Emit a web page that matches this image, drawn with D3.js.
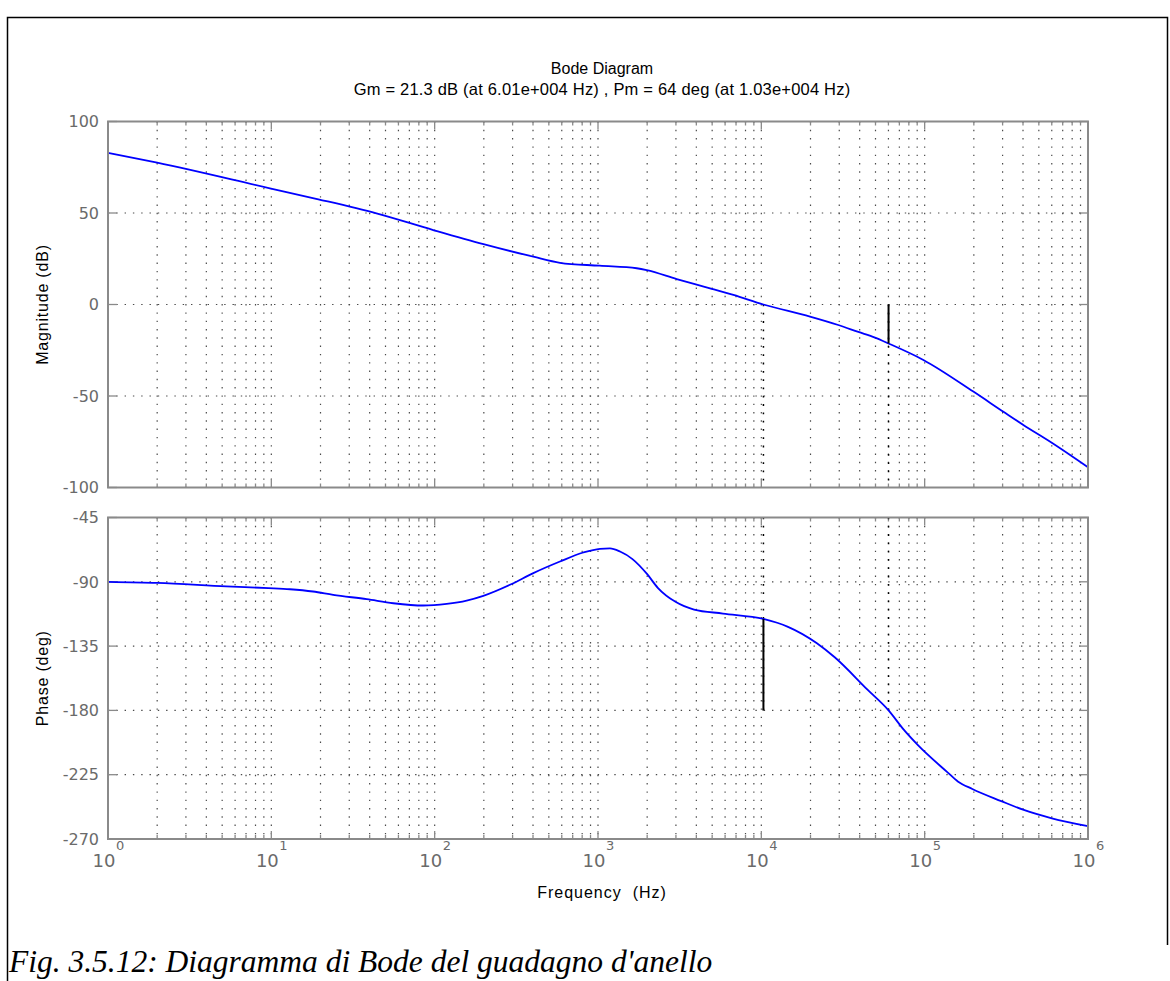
<!DOCTYPE html>
<html>
<head>
<meta charset="utf-8">
<script src="https://cdnjs.cloudflare.com/ajax/libs/d3/7.8.5/d3.min.js"></script>
<style>
  html, body { margin: 0; padding: 0; background: #fff; }
  svg { display: block; }
</style>
</head>
<body>
<svg id="chart" width="1170" height="981"></svg>
<script>
// ---- data --------------------------------------------------------------
// Loop-gain magnitude (dB) sampled at these frequencies (Hz)
const magFreq = [1, 2, 9.8, 19.4, 44, 98, 199, 402, 585, 1023, 1725, 1986,
  3034, 4020, 4852, 6743, 10300, 19860, 29580, 39260, 49650, 60100, 98200,
  198600, 303400, 401800, 600000, 1000000];
const magDb = [82.9, 77.5, 63.5, 57.5, 49.8, 40.7, 33, 26.1, 22.8, 21.2, 19.8, 18.8,
  13.9, 10.8, 8.8, 5.2, 0, -6.6, -11.2, -15, -18.1, -21.3, -30.3,
  -47.6, -58.6, -65.8, -75.5, -88.9];

// Loop-gain phase (deg) sampled at these frequencies (Hz)
const phaseFreq = [1, 2, 5.3, 9.6, 13, 18, 23.9, 38.4, 55.8, 85.3, 118.5, 157,
  198.6, 289, 402, 585, 813, 1028, 1184, 1364, 1626, 1995, 2323, 2999, 3873,
  5823, 10300, 14560, 21890, 28250, 44650, 60100, 74440, 91270, 137000,
  159600, 195800, 294400, 400000, 600800, 1000000];
const phaseDeg = [-90, -90.8, -93.2, -94.4, -95.2, -96.8, -99.1, -102.2, -105,
  -106.6, -105.4, -103.1, -99.8, -92.1, -83.9, -75.8, -69.5, -66.9, -66.6,
  -68.8, -74.1, -84.5, -94.2, -104.2, -109.4, -112.2, -116, -121.5, -133,
  -143, -165.5, -180, -193.5, -204.5, -223, -229.7, -235, -243.5,
  -249.5, -255.5, -261];

// Stability margins
const gainMarginDb = 21.3;     // at phase crossover
const gainMarginFreq = 6.01e4;
const phaseMarginDeg = 64;     // at gain crossover
const phaseMarginFreq = 1.03e4;

// Axis ticks
const freqDecades = [1, 10, 100, 1e3, 1e4, 1e5, 1e6];
const magTicks = [-100, -50, 0, 50, 100];
const phaseTicks = [-270, -225, -180, -135, -90, -45];

const titleText = "Bode Diagram";
const xLabelText = "Frequency\u00a0 (Hz)";
const magLabelText = "Magnitude (dB)";
const phaseLabelText = "Phase (deg)";
const captionText = "Fig. 3.5.12: Diagramma di Bode del guadagno d'anello";

// ---- layout ------------------------------------------------------------
const svg = d3.select("#chart");
const X0 = 108, X1 = 1088;
const MAG_TOP = 121.5, MAG_BOT = 487.5;
const PH_TOP = 517.5, PH_BOT = 839;

const TICK_FONT = "'DejaVu Sans', sans-serif";
const TEXT_FONT = "'Liberation Sans', Arial, sans-serif";
const AXIS_GREY = "#8a8a8a";
const LABEL_GREY = "#6a6a6a";

const x = d3.scaleLog().domain([1, 1e6]).range([X0, X1]);
const yMag = d3.scaleLinear().domain([-100, 100]).range([MAG_BOT, MAG_TOP]);
const yPh = d3.scaleLinear().domain([-270, -45]).range([PH_BOT, PH_TOP]);

// MATLAB-style exponent string, e.g. 6.01e+004
function matlabExp(v) {
  const e = Math.floor(Math.log10(v));
  const m = v / Math.pow(10, e);
  return m.toFixed(2) + "e" + (e >= 0 ? "+" : "-") + String(Math.abs(e)).padStart(3, "0");
}

// Document frame around the figure
svg.append("path")
  .attr("d", "M7.5,981 V17.5 H1167.5 V945")
  .attr("fill", "none").attr("stroke", "#000").attr("stroke-width", 1.5);

// minor + major frequency positions
const allFreqTicks = [];
for (let d = 0; d < 6; d++) {
  for (let k = 1; k <= 9; k++) allFreqTicks.push(k * Math.pow(10, d));
}
allFreqTicks.push(1e6);
const minorFreq = allFreqTicks.filter(f => !freqDecades.includes(f));

function drawPanel(y, yTicks, top, bot) {
  const g = svg.append("g");
  const grid = g.append("g")
    .attr("stroke", "#4a4a4a").attr("stroke-width", 1.2)
    .attr("stroke-dasharray", "1.4 6.9").attr("fill", "none");
  // vertical grid at every decade and sub-decade
  allFreqTicks.forEach(f => {
    grid.append("line")
      .attr("x1", x(f)).attr("x2", x(f))
      .attr("y1", top).attr("y2", bot);
  });
  // horizontal grid at y ticks
  yTicks.forEach(t => {
    grid.append("line")
      .attr("x1", X0).attr("x2", X1)
      .attr("y1", y(t)).attr("y2", y(t));
  });

  // tick marks (all four sides, pointing inward)
  const ticks = g.append("g").attr("stroke", AXIS_GREY).attr("stroke-width", 1.3);
  freqDecades.forEach(f => {
    ticks.append("line").attr("x1", x(f)).attr("x2", x(f)).attr("y1", bot).attr("y2", bot - 8);
    ticks.append("line").attr("x1", x(f)).attr("x2", x(f)).attr("y1", top).attr("y2", top + 8);
  });
  minorFreq.forEach(f => {
    ticks.append("line").attr("x1", x(f)).attr("x2", x(f)).attr("y1", bot).attr("y2", bot - 4);
    ticks.append("line").attr("x1", x(f)).attr("x2", x(f)).attr("y1", top).attr("y2", top + 4);
  });
  yTicks.forEach(t => {
    ticks.append("line").attr("x1", X0).attr("x2", X0 + 9).attr("y1", y(t)).attr("y2", y(t));
    ticks.append("line").attr("x1", X1).attr("x2", X1 - 9).attr("y1", y(t)).attr("y2", y(t));
  });

  // y tick labels
  g.append("g").selectAll("text").data(yTicks).join("text")
    .attr("x", 99).attr("y", d => y(d)).attr("dy", "0.36em")
    .attr("text-anchor", "end")
    .attr("font-family", TICK_FONT).attr("font-size", 16)
    .attr("fill", LABEL_GREY)
    .text(d => d);

  return g;
}

drawPanel(yMag, magTicks, MAG_TOP, MAG_BOT);
drawPanel(yPh, phaseTicks, PH_TOP, PH_BOT);

// margin markers: dotted guides
const guide = svg.append("g")
  .attr("stroke", "#000").attr("stroke-width", 1.5)
  .attr("stroke-dasharray", "1.8 6.5").attr("fill", "none");
[phaseMarginFreq, gainMarginFreq].forEach(f => {
  guide.append("line").attr("x1", x(f)).attr("x2", x(f))
    .attr("y1", yMag(0)).attr("y2", MAG_BOT);
  guide.append("line").attr("x1", x(f)).attr("x2", x(f))
    .attr("y1", PH_TOP).attr("y2", yPh(-180));
});

// Curves
const magLine = d3.line()
  .x((d, i) => x(magFreq[i])).y(d => yMag(d))
  .curve(d3.curveMonotoneX);
const phLine = d3.line()
  .x((d, i) => x(phaseFreq[i])).y(d => yPh(d))
  .curve(d3.curveMonotoneX);

svg.append("path").attr("d", magLine(magDb))
  .attr("fill", "none").attr("stroke", "#0000ff").attr("stroke-width", 1.8);
svg.append("path").attr("d", phLine(phaseDeg))
  .attr("fill", "none").attr("stroke", "#0000ff").attr("stroke-width", 1.8);

// Solid margin segments
svg.append("line")
  .attr("x1", x(gainMarginFreq)).attr("x2", x(gainMarginFreq))
  .attr("y1", yMag(0)).attr("y2", yMag(-gainMarginDb))
  .attr("stroke", "#000").attr("stroke-width", 2);
svg.append("line")
  .attr("x1", x(phaseMarginFreq)).attr("x2", x(phaseMarginFreq))
  .attr("y1", yPh(-180)).attr("y2", yPh(-180 + phaseMarginDeg))
  .attr("stroke", "#000").attr("stroke-width", 2);

// Axes boxes on top
[[MAG_TOP, MAG_BOT], [PH_TOP, PH_BOT]].forEach(([t, b]) => {
  svg.append("rect")
    .attr("x", X0).attr("y", t).attr("width", X1 - X0).attr("height", b - t)
    .attr("fill", "none").attr("stroke", AXIS_GREY).attr("stroke-width", 2);
});

// x tick labels: 10^n
const xl = svg.append("g").attr("font-family", TICK_FONT).attr("fill", LABEL_GREY);
freqDecades.forEach(f => {
  xl.append("text")
    .attr("x", x(f) - 4).attr("y", 867)
    .attr("text-anchor", "middle").attr("font-size", 18)
    .text("10");
  xl.append("text")
    .attr("x", x(f) + 8).attr("y", 850)
    .attr("font-size", 13)
    .text(Math.round(Math.log10(f)));
});

// Titles and axis labels
const cx = (X0 + X1) / 2 + 4;
svg.append("text")
  .attr("x", cx).attr("y", 74)
  .attr("text-anchor", "middle").attr("font-family", TEXT_FONT).attr("font-size", 16)
  .text(titleText);
svg.append("text")
  .attr("x", cx).attr("y", 95)
  .attr("text-anchor", "middle").attr("font-family", TEXT_FONT).attr("font-size", 16.5)
  .attr("letter-spacing", 0.2)
  .text(`Gm = ${gainMarginDb} dB (at ${matlabExp(gainMarginFreq)} Hz) ,  Pm = ${phaseMarginDeg} deg (at ${matlabExp(phaseMarginFreq)} Hz)`);

svg.append("text")
  .attr("x", cx).attr("y", 898)
  .attr("text-anchor", "middle").attr("font-family", TEXT_FONT).attr("font-size", 16)
  .attr("letter-spacing", 1)
  .text(xLabelText);

svg.append("text")
  .attr("transform", `translate(48,${(MAG_TOP + MAG_BOT) / 2}) rotate(-90)`)
  .attr("text-anchor", "middle").attr("font-family", TEXT_FONT).attr("font-size", 16)
  .attr("letter-spacing", 0.8)
  .text(magLabelText);
svg.append("text")
  .attr("transform", `translate(48,${(PH_TOP + PH_BOT) / 2}) rotate(-90)`)
  .attr("text-anchor", "middle").attr("font-family", TEXT_FONT).attr("font-size", 16)
  .attr("letter-spacing", 0.8)
  .text(phaseLabelText);

// Caption
svg.append("text")
  .attr("x", 9).attr("y", 972)
  .attr("font-family", "'Liberation Serif', 'Times New Roman', serif")
  .attr("font-style", "italic").attr("font-size", 31.5)
  .text(captionText);
</script>
</body>
</html>
